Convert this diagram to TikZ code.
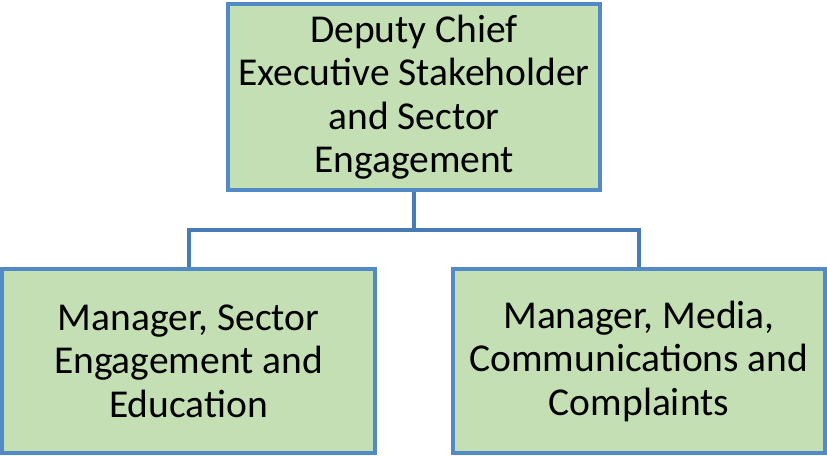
\documentclass[tikz,border=0pt]{standalone}
\usepackage{fontspec}
\setmainfont{Carlito}
\definecolor{boxfill}{RGB}{196,223,180}
\definecolor{boxline}{RGB}{82,138,198}
\definecolor{connline}{RGB}{72,122,180}
\begin{document}
\begin{tikzpicture}[x=1pt,y=1pt,
  orgbox/.style={draw=boxline, fill=boxfill, line width=4pt, align=center,
    inner sep=0pt, font=\fontsize{39.5}{43.5}\selectfont, text=black},
  conn/.style={draw=connline, line width=4pt}]
\useasboundingbox (0,0) rectangle (827,-455);
\node[orgbox, minimum width=372pt, minimum height=186pt] (top) at (414,-97)
  {Deputy Chief\\Executive Stakeholder\\and Sector\\Engagement};
\node[orgbox, minimum width=373pt, minimum height=184pt] (left) at (188.5,-361)
  {Manager, Sector\\Engagement and\\Education};
\node[orgbox, minimum width=372pt, minimum height=184pt] (right) at (639,-361)
  {Manager, Media,\\Communications and\\Complaints};
\coordinate (mid) at (414,-230);
\draw[conn] (top.south) -- (mid) -| (left.north);
\draw[conn] (mid) -| (right.north);
\end{tikzpicture}
\end{document}
